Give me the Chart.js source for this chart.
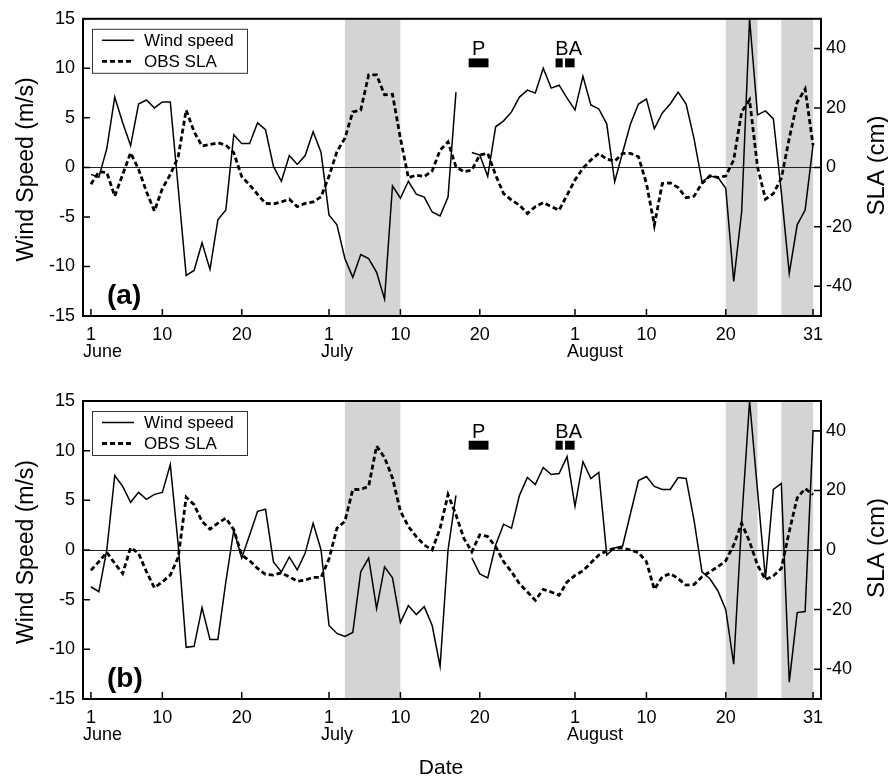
<!DOCTYPE html>
<html>
<head>
<meta charset="utf-8">
<title>Wind speed and observed SLA, June–August</title>
<script src="https://cdn.jsdelivr.net/npm/chart.js@4.4.1/dist/chart.umd.min.js"></script>
<style>
  html, body { margin: 0; padding: 0; background: #fff; }
  #wrap { position: relative; width: 888px; height: 779px; overflow: hidden; }
  canvas { position: absolute; left: 0; }
</style>
</head>
<body>
<div id="wrap">
  <canvas id="panelA" width="888" height="380" style="top:0px"></canvas>
  <canvas id="panelB" width="888" height="399" style="top:380px"></canvas>
</div>
<script>
// Day index counted from 1 June (0) to 1 September (92)
const dayIndex = [
  0, 1, 2, 3, 4, 5, 6, 7, 8, 9,
  10, 11, 12, 13, 14, 15, 16, 17, 18, 19,
  20, 21, 22, 23, 24, 25, 26, 27, 28, 29,
  30, 31, 32, 33, 34, 35, 36, 37, 38, 39,
  40, 41, 42, 43, 44, 45, 46, 47, 48, 49,
  50, 51, 52, 53, 54, 55, 56, 57, 58, 59,
  60, 61, 62, 63, 64, 65, 66, 67, 68, 69,
  70, 71, 72, 73, 74, 75, 76, 77, 78, 79,
  80, 81, 82, 83, 84, 85, 86, 87, 88, 89,
  90, 91, 92
];

// Date axis ticks
const tickDays   = [0, 9, 19, 30, 39, 49, 61, 70, 80, 91];
const tickLabels = ['1', '10', '20', '1', '10', '20', '1', '10', '20', '31'];
const monthNames     = ['June', 'July', 'August'];
const monthStartDays = [0, 30, 61];

// Value axis ticks
const windTicks = [-15, -10, -5, 0, 5, 10, 15];
const slaTicks  = [-40, -20, 0, 20, 40];

// Shaded periods [start day, end day]
const shadeBands = [[32, 39], [80, 84], [87, 91]];

// Event markers (days)
const eventFrom = [47.6, 58.55, 59.75];
const eventTo   = [50.1, 59.45, 60.95];
const eventLabelText = ['P', 'BA'];
const eventLabelDay  = [48.85, 60.2];

// Panel (a): wind speed (m/s) and observed SLA (cm)
const windA = [
  -0.7, -1.0, 1.9, 7.1, 4.5, 2.2, 6.4, 6.8, 6.0, 6.6,
  6.6, -2.1, -10.9, -10.4, -7.6, -10.3, -5.3, -4.3, 3.3, 2.4,
  2.4, 4.5, 3.8, 0.1, -1.4, 1.2, 0.3, 1.2, 3.6, 1.5,
  -4.8, -5.8, -9.2, -11.1, -8.8, -9.2, -10.6, -13.3, -1.85, -3.1,
  -1.4, -2.7, -3.0, -4.5, -4.9, -3.0, 7.6, null, 1.5, 1.25,
  -0.9, 4.1, 4.7, 5.6, 7.1, 7.8, 7.5, 10.0, 8.0, 8.3,
  7.0, 5.8, 9.2, 6.3, 5.9, 4.4, -1.45, 1.5, 4.4, 6.4,
  6.9, 3.9, 5.5, 6.4, 7.6, 6.4, 2.9, -1.45, -0.9, -1.0,
  -2.1, -11.5, -4.5, 15.0, 5.3, 5.7, 4.9, -2.5, -10.7, -5.8,
  -4.3, 2.3, null
];
const slaA = [
  -5.7, -1.5, -1.7, -9.7, -2.4, 4.9, -0.6, -8.2, -14.7, -7.1,
  -2.4, 3.6, 19.3, 12.0, 7.2, 7.7, 8.3, 7.5, 4.9, -3.1,
  -5.9, -9.1, -12.1, -12.3, -11.6, -10.7, -13.2, -12.1, -11.6, -9.9,
  -3.0, 5.3, 9.8, 18.7, 19.3, 31.1, 31.1, 24.4, 24.6, 9.8,
  -3.5, -2.6, -3.1, -1.2, 5.8, 8.6, 0.2, -1.5, -0.9, 4.2,
  4.7, -2.6, -8.8, -11.0, -12.7, -15.5, -13.2, -11.8, -13.2, -14.4,
  -9.3, -4.2, -0.3, 2.5, 4.7, 2.8, 2.1, 4.7, 4.7, 3.6,
  -5.4, -19.4, -5.4, -5.2, -6.8, -10.2, -9.7, -5.4, -2.8, -3.4,
  -2.9, 2.5, 18.7, 22.7, 0.2, -10.7, -8.8, -3.7, 9.8, 21.9,
  26.4, 7.5, null
];

// Panel (b): wind speed (m/s) and observed SLA (cm)
const windB = [
  -3.7, -4.2, 0.0, 7.5, 6.4, 4.8, 5.8, 5.1, 5.6, 5.8,
  8.6, 0.5, -9.8, -9.7, -5.8, -9.0, -9.0, -3.2, 2.0, -0.8,
  1.5, 3.9, 4.1, -1.2, -2.2, -0.7, -2.0, -0.3, 2.7, 0.0,
  -7.6, -8.4, -8.7, -8.3, -2.2, -0.8, -5.9, -1.7, -2.8, -7.3,
  -5.6, -6.5, -5.7, -7.6, -11.7, 0.0, 5.5, null, -0.8, -2.4,
  -2.8, 0.5, 2.6, 2.2, 5.5, 7.3, 6.6, 8.3, 7.6, 7.7,
  9.4, 4.4, 8.9, 7.2, 7.8, -0.5, 0.2, 0.4, 3.7, 7.0,
  7.4, 6.4, 6.1, 6.1, 7.3, 7.2, 3.0, -2.2, -2.9, -4.1,
  -6.0, -11.5, 2.9, 15.0, 6.0, -2.9, 6.1, 6.7, -13.3, -6.3,
  -6.2, 12.0, 12.0
];
const slaB = [
  -6.8, -3.9, -0.8, -4.5, -7.9, 0.8, -1.1, -7.3, -12.7, -10.7,
  -8.4, -2.5, 17.7, 15.2, 9.6, 7.0, 9.0, 10.7, 6.8, -1.7,
  -3.6, -6.2, -8.2, -8.4, -7.7, -9.0, -10.5, -10.1, -9.2, -9.2,
  -3.0, 7.3, 9.6, 20.3, 20.3, 21.4, 34.9, 31.0, 24.2, 13.0,
  7.9, 4.5, 1.7, 0.0, 7.3, 18.6, 11.8, 3.9, -0.6, 5.1,
  4.5, 1.1, -3.9, -7.3, -11.3, -14.1, -16.9, -13.2, -14.1, -15.2,
  -10.7, -8.5, -7.0, -4.3, -1.7, -0.3, 0.6, 0.6, 0.0, -0.9,
  -3.9, -13.2, -9.0, -7.9, -9.6, -11.8, -11.6, -9.0, -7.3, -5.6,
  -3.6, 1.7, 9.0, 2.8, -5.1, -9.9, -8.7, -6.2, 6.2, 17.5,
  20.6, 18.6, null
];

const FONT = "'Liberation Sans', Arial, Helvetica, sans-serif";
const DASH = [5, 3];

// Draws shading, zero line, frame, inward ticks, event bars, legend and titles
const decor = {
  id: 'decor',
  beforeDatasetsDraw(chart) {
    const { ctx, chartArea: a, scales: { x, y } } = chart;
    ctx.save();
    ctx.fillStyle = '#d4d4d4';
    shadeBands.forEach(([d0, d1]) => {
      const x0 = x.getPixelForValue(d0), x1 = x.getPixelForValue(d1);
      ctx.fillRect(x0, a.top, x1 - x0, a.bottom - a.top);
    });
    const y0 = Math.round(y.getPixelForValue(0)) + 0.5;
    ctx.strokeStyle = '#222';
    ctx.lineWidth = 1;
    ctx.beginPath();
    ctx.moveTo(a.left, y0);
    ctx.lineTo(a.right, y0);
    ctx.stroke();
    ctx.restore();
  },
  afterDatasetsDraw(chart, args, opts) {
    const { ctx, chartArea: a, scales: { x, y, y2 } } = chart;
    ctx.save();

    // frame
    ctx.strokeStyle = '#000';
    ctx.lineWidth = 2;
    ctx.strokeRect(a.left, a.top, a.right - a.left, a.bottom - a.top);

    // inward tick marks
    ctx.lineWidth = 1.5;
    ctx.beginPath();
    tickDays.forEach(d => {
      const px = x.getPixelForValue(d);
      ctx.moveTo(px, a.bottom); ctx.lineTo(px, a.bottom - 7);
    });
    windTicks.forEach(v => {
      const py = y.getPixelForValue(v);
      ctx.moveTo(a.left, py); ctx.lineTo(a.left + 7, py);
    });
    slaTicks.forEach(v => {
      const py = y2.getPixelForValue(v);
      ctx.moveTo(a.right, py); ctx.lineTo(a.right - 7, py);
    });
    ctx.stroke();

    // event bars and their letters
    ctx.fillStyle = '#000';
    const barTop = y.getPixelForValue(11.0), barBot = y.getPixelForValue(10.1);
    eventFrom.forEach((d0, i) => {
      const x0 = x.getPixelForValue(d0), x1 = x.getPixelForValue(eventTo[i]);
      ctx.fillRect(x0, barTop, x1 - x0, barBot - barTop);
    });
    ctx.font = `20px ${FONT}`;
    ctx.textAlign = 'center';
    ctx.textBaseline = 'alphabetic';
    eventLabelText.forEach((t, i) => {
      ctx.fillText(t, x.getPixelForValue(eventLabelDay[i]), barTop - 3);
    });

    // legend
    const ds = chart.data.datasets;
    const lx = a.left + 9, ly = a.top + 10, lw = 155, lh = 44;
    ctx.fillStyle = '#fff';
    ctx.fillRect(lx, ly, lw, lh);
    ctx.strokeStyle = '#333';
    ctx.lineWidth = 1;
    ctx.strokeRect(lx + 0.5, ly + 0.5, lw, lh);
    ctx.font = `17px ${FONT}`;
    ctx.textAlign = 'left';
    ctx.textBaseline = 'middle';
    ds.forEach((d, i) => {
      const ry = ly + 11.5 + i * 21;
      ctx.strokeStyle = '#000';
      ctx.lineWidth = d.borderWidth;
      ctx.setLineDash(d.borderDash || []);
      ctx.beginPath();
      ctx.moveTo(lx + 10, ry);
      ctx.lineTo(lx + 42, ry);
      ctx.stroke();
      ctx.setLineDash([]);
      ctx.fillStyle = '#000';
      ctx.fillText(d.label, lx + 52, ry + 1);
    });

    // panel letter
    ctx.font = `bold 28px ${FONT}`;
    ctx.textAlign = 'left';
    ctx.textBaseline = 'middle';
    ctx.fillText(opts.letter, a.left + 24, a.bottom - 20);

    // month names under the first day of each month
    ctx.font = `18px ${FONT}`;
    ctx.textAlign = 'left';
    ctx.textBaseline = 'alphabetic';
    monthNames.forEach((m, i) => {
      ctx.fillText(m, x.getPixelForValue(monthStartDays[i]) - 8, a.bottom + 41);
    });

    // axis titles
    const midY = (a.top + a.bottom) / 2;
    ctx.textAlign = 'center';
    ctx.textBaseline = 'middle';
    ctx.font = `23px ${FONT}`;
    ctx.save();
    ctx.translate(27, midY + 2);
    ctx.rotate(-Math.PI / 2);
    ctx.fillText('Wind Speed (m/s)', 0, 0);
    ctx.restore();
    ctx.font = `24px ${FONT}`;
    ctx.save();
    ctx.translate(877, midY - 2);
    ctx.rotate(-Math.PI / 2);
    ctx.fillText('SLA (cm)', 0, 0);
    ctx.restore();

    if (opts.dateTitle) {
      ctx.font = `21px ${FONT}`;
      ctx.textAlign = 'center';
      ctx.textBaseline = 'middle';
      ctx.fillText(opts.dateTitle, (a.left + a.right) / 2 - 11, a.bottom + 69);
    }
    ctx.restore();
  }
};

function panelConfig(wind, sla, p) {
  const noGrid = { display: false, drawTicks: false };
  return {
    type: 'line',
    data: {
      labels: dayIndex,
      datasets: [
        { label: 'Wind speed', data: wind, yAxisID: 'y', borderColor: '#000',
          borderWidth: 1.5, pointRadius: 0, tension: 0, fill: false, spanGaps: false },
        { label: 'OBS SLA', data: sla, yAxisID: 'y2', borderColor: '#000',
          borderWidth: 2.8, borderDash: DASH, pointRadius: 0, tension: 0, fill: false, spanGaps: false }
      ]
    },
    options: {
      responsive: false,
      animation: false,
      devicePixelRatio: 1,
      layout: { padding: { top: p.top, left: 0, right: 0, bottom: 0 } },
      plugins: {
        legend: { display: false },
        tooltip: { enabled: false },
        decor: { letter: p.letter, dateTitle: p.dateTitle }
      },
      scales: {
        x: {
          type: 'linear', min: -1, max: 92,
          grid: noGrid, border: { display: false },
          afterBuildTicks: s => { s.ticks = tickDays.map(v => ({ value: v })); },
          ticks: { font: { family: FONT, size: 18 }, color: '#000', padding: 8,
                   maxRotation: 0, autoSkip: false,
                   callback: (v, i) => tickLabels[i] },
          afterFit: s => { s.height = p.xHeight; }
        },
        y: {
          type: 'linear', position: 'left', min: -15, max: 15,
          grid: noGrid, border: { display: false },
          afterBuildTicks: s => { s.ticks = windTicks.map(v => ({ value: v })); },
          ticks: { font: { family: FONT, size: 18 }, color: '#000', padding: 8,
                   callback: v => String(v) },
          afterFit: s => { s.width = 83; }
        },
        y2: {
          type: 'linear', position: 'right', min: -50, max: 50,
          grid: noGrid, border: { display: false },
          afterBuildTicks: s => { s.ticks = slaTicks.map(v => ({ value: v })); },
          ticks: { font: { family: FONT, size: 18 }, color: '#000', padding: 5,
                   callback: v => String(v) },
          afterFit: s => { s.width = 67; }
        }
      }
    },
    plugins: [decor]
  };
}

new Chart(document.getElementById('panelA'),
  panelConfig(windA, slaA, { top: 18, xHeight: 64, letter: '(a)', dateTitle: null }));
new Chart(document.getElementById('panelB'),
  panelConfig(windB, slaB, { top: 21, xHeight: 80, letter: '(b)', dateTitle: 'Date' }));
</script>
</body>
</html>
